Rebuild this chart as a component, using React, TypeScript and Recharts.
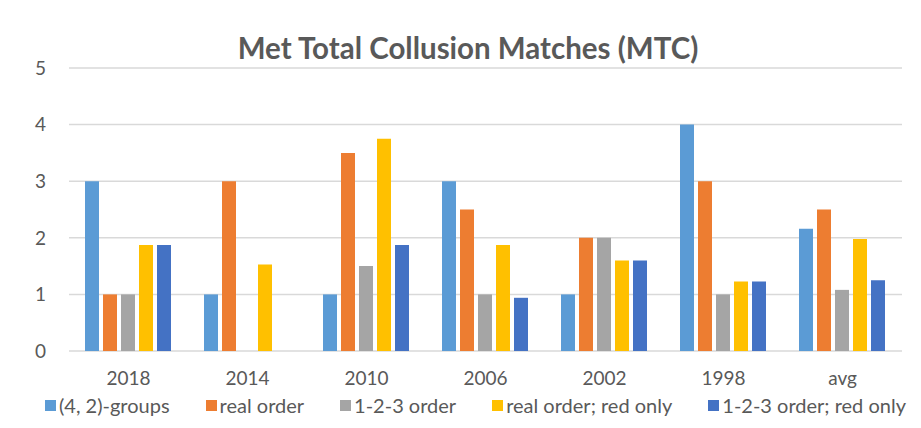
import React from "react";
import { Bar, BarChart, CartesianGrid, XAxis, YAxis } from "recharts";

const categories = ["2018", "2014", "2010", "2006", "2002", "1998", "avg"];
const groups42 = [3, 1, 1, 3, 1, 4, 2.16];
const realOrder = [1, 3, 3.5, 2.5, 2, 3, 2.5];
const order123 = [1, 0, 1.5, 1, 2, 1, 1.08];
const realOrderRed = [1.875, 1.53, 3.75, 1.875, 1.6, 1.23, 1.98];
const order123Red = [1.875, 0, 1.875, 0.94, 1.6, 1.23, 1.25];
const yTicks = [0, 1, 2, 3, 4, 5];

const series = [
  { key: "groups42", name: "(4, 2)-groups", color: "#5B9BD5" },
  { key: "realOrder", name: "real order", color: "#ED7D31" },
  { key: "order123", name: "1-2-3 order", color: "#A5A5A5" },
  { key: "realOrderRed", name: "real order; red only", color: "#FFC000" },
  { key: "order123Red", name: "1-2-3 order; red only", color: "#4472C4" },
];

const data = categories.map((name, i) => ({
  name,
  groups42: groups42[i],
  realOrder: realOrder[i],
  order123: order123[i],
  realOrderRed: realOrderRed[i],
  order123Red: order123Red[i],
}));

const FONT = "Lato, 'Open Sans', sans-serif";
const TEXT = "#595959";

export default function App() {
  return (
    <div
      style={{
        position: "relative",
        width: 930,
        height: 430,
        margin: "-2px 0 0 -2px",
        border: "2px solid #d9d9d9",
        fontFamily: FONT,
        background: "#fff",
      }}
    >
      <div
        style={{
          position: "absolute",
          top: 24,
          left: 0,
          width: 920,
          textAlign: "center",
          fontSize: 29.5,
          lineHeight: "32px",
          fontWeight: 700,
          color: TEXT,
        }}
      >
        Met Total Collusion Matches (MTC)
      </div>
      <BarChart
        width={913}
        height={420}
        data={data}
        margin={{ top: 60, right: 19, left: 0, bottom: 47 }}
        barCategoryGap={16}
        barGap={4}
      >
        <CartesianGrid vertical={false} stroke="#d9d9d9" strokeWidth={1.5} />
        <XAxis
          dataKey="name"
          axisLine={false}
          tickLine={false}
          tickSize={0}
          tickMargin={21}
          height={30}
          tick={{ fontSize: 19, fill: TEXT, fontFamily: FONT }}
        />
        <YAxis
          width={61}
          domain={[0, 5]}
          ticks={yTicks}
          axisLine={false}
          tickLine={false}
          tickSize={0}
          tickMargin={23}
          tick={{ fontSize: 19, fill: TEXT, fontFamily: FONT }}
        />
        {series.map((s) => (
          <Bar
            key={s.key}
            dataKey={s.key}
            name={s.name}
            fill={s.color}
            isAnimationActive={false}
          />
        ))}
      </BarChart>
      <div
        style={{
          position: "absolute",
          top: 385,
          left: 37,
          display: "flex",
          gap: 36,
          fontSize: 20,
          color: TEXT,
          whiteSpace: "nowrap",
        }}
      >
        {series.map((s) => (
          <div key={s.key} style={{ display: "flex", alignItems: "center" }}>
            <span
              style={{
                width: 11,
                height: 11,
                background: s.color,
                marginRight: 3,
                display: "inline-block",
              }}
            />
            <span>{s.name}</span>
          </div>
        ))}
      </div>
    </div>
  );
}
